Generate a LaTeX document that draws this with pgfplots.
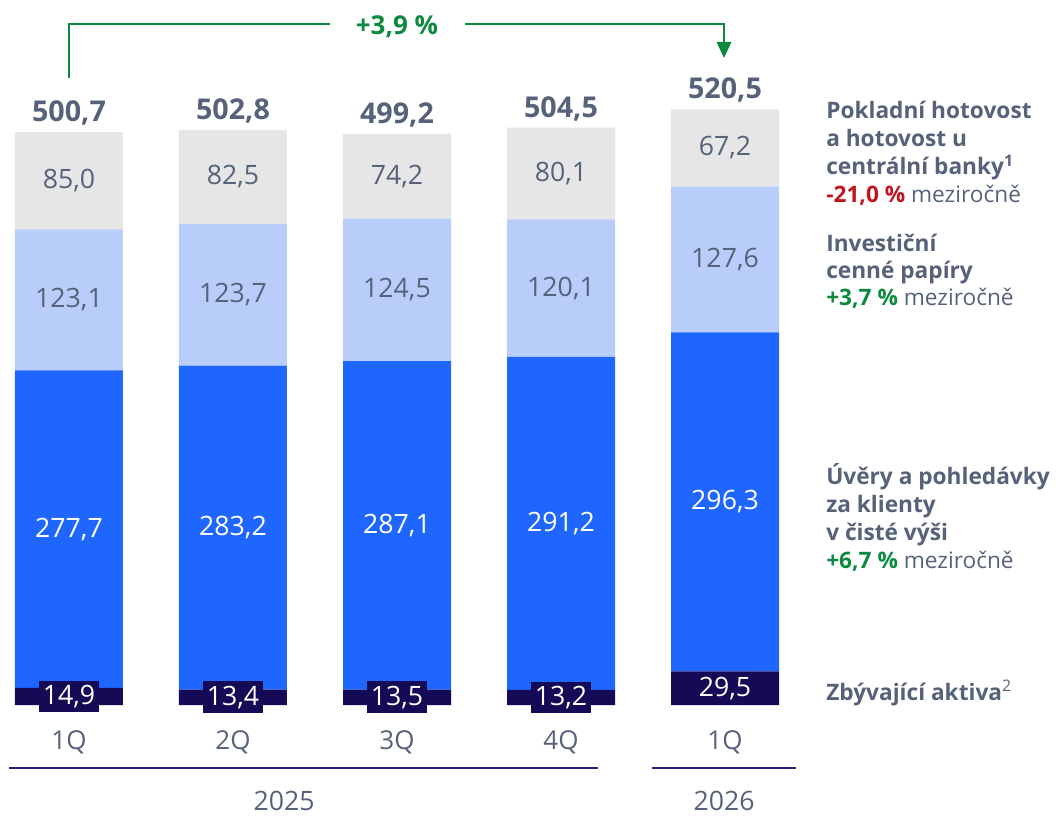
\documentclass[border=0pt]{standalone}
\usepackage{pgfplots}
\pgfplotsset{compat=1.18}
\usepackage{pgfplotstable}
\usepackage{fontspec}
\setmainfont{Open Sans}
\definecolor{cNavy}{HTML}{140A55}
\definecolor{cBlue}{HTML}{1F66FF}
\definecolor{cLight}{HTML}{B9CDFB}
\definecolor{cGray}{HTML}{E6E6E6}
\definecolor{cText}{HTML}{56627A}
\definecolor{cGreen}{HTML}{0B8A3F}
\definecolor{cRed}{HTML}{C0141E}
\definecolor{cLine}{HTML}{2A1F78}

\pgfplotstableread{
x v lab
0 14.9 14,9
1 13.4 13,4
2 13.5 13,5
3 13.2 13,2
4 29.5 29,5
}\dRest
\pgfplotstableread{
x v lab
0 277.7 277,7
1 283.2 283,2
2 287.1 287,1
3 291.2 291,2
4 296.3 296,3
}\dLoans
\pgfplotstableread{
x v lab
0 123.1 123,1
1 123.7 123,7
2 124.5 124,5
3 120.1 120,1
4 127.6 127,6
}\dSec
\pgfplotstableread{
x v lab
0 85.0 85,0
1 82.5 82,5
2 74.2 74,2
3 80.1 80,1
4 67.2 67,2
}\dCash
\pgfplotstableread{
x v lab
0 500.7 500,7
1 502.8 502,8
2 499.2 499,2
3 504.5 504,5
4 520.5 520,5
}\dTotal

\newcommand{\valfont}{\fontsize{20}{24}\selectfont}
\newcommand{\lblfont}{\fontsize{17}{20}\selectfont}
\pgfplotsset{
  seglabel/.style={
    nodes near coords,
    point meta=explicit symbolic,
    every node near coord/.append style={anchor=center, inner sep=0pt, font=\valfont}
  },
  geom/.style={
    at={(0pt,82.5pt)}, anchor=south west,
    scale only axis, width=600pt, height=528.75pt,
    xmin=-0.4207, xmax=4.4573, ymin=0, ymax=616.26,
    enlargelimits=false, clip=false,
    axis line style={draw=none}, tick style={draw=none},
    major tick length=0pt, ytick=\empty,
  }
}

\begin{document}
\begin{tikzpicture}
\useasboundingbox (0,0) rectangle (795.75pt,611.25pt);
\begin{axis}[
  geom,
  ybar stacked, bar width=81pt,
  xtick={0,1,2,3,4},
  xticklabels={1Q,2Q,3Q,4Q,1Q},
  xticklabel style={anchor=base, yshift=-33pt, text=cText, font=\fontsize{19.5}{22}\selectfont},
]
\addplot[fill=cNavy, draw=none, seglabel,
  every node near coord/.append style={fill=cNavy, text=white, minimum width=45pt, minimum height=23.8pt}]
  table[x=x, y=v, meta=lab] {\dRest};
\addplot[fill=cBlue, draw=none, seglabel,
  every node near coord/.append style={text=white}]
  table[x=x, y=v, meta=lab] {\dLoans};
\addplot[fill=cLight, draw=none, seglabel,
  every node near coord/.append style={text=cText}]
  table[x=x, y=v, meta=lab] {\dSec};
\addplot[fill=cGray, draw=none, seglabel,
  every node near coord/.append style={text=cText}]
  table[x=x, y=v, meta=lab] {\dCash};
\end{axis}
\begin{axis}[geom, xtick=\empty]
\addplot[draw=none, mark=none, nodes near coords, point meta=explicit symbolic,
  every node near coord/.append style={anchor=base, inner sep=0pt, yshift=8pt,
    text=cText, font=\fontsize{21.5}{24}\selectfont\bfseries}]
  table[x=x, y=v, meta=lab] {\dTotal};
\end{axis}

\begin{scope}[x=0.75pt, y=-0.75pt, shift={(0pt,611.25pt)}]
  % growth bracket
  \draw[cGreen, line width=1.5pt] (69,78) -- (69,24) -- (330,24);
  \draw[cGreen, line width=1.5pt] (465,24) -- (724,24) -- (724,44);
  \fill[cGreen] (716.5,42) -- (731.5,42) -- (724,58) -- cycle;
  \node[anchor=base, inner sep=0pt, text=cGreen, font=\fontsize{19.5}{22}\selectfont\bfseries] at (397,35) {+3,9 \%};
  % year lines
  \draw[cLine, line width=1.1pt] (9,768) -- (598,768);
  \draw[cLine, line width=1.1pt] (652,768) -- (796,768);
  \node[anchor=base, inner sep=0pt, text=cText, font=\fontsize{20}{24}\selectfont] at (284,810) {2025};
  \node[anchor=base, inner sep=0pt, text=cText, font=\fontsize{20}{24}\selectfont] at (724,810) {2026};
  % right labels
  \begin{scope}[every node/.style={anchor=base west, inner sep=0pt, text=cText, font=\lblfont}]
    \node at (826,119) {\bfseries Pokladní hotovost};
    \node at (826,147) {\bfseries a hotovost u};
    \node at (826,175) {\bfseries centrální banky\textsuperscript{1}};
    \node at (826,203) {{\bfseries\color{cRed}-21,0 \%} meziročně};
    \node at (826,252) {\bfseries Investiční};
    \node at (826,279) {\bfseries cenné papíry};
    \node at (826,306) {{\bfseries\color{cGreen}+3,7 \%} meziročně};
    \node at (826,485) {\bfseries Úvěry a pohledávky};
    \node at (826,513) {\bfseries za klienty};
    \node at (826,541) {\bfseries v čisté výši};
    \node at (826,569) {{\bfseries\color{cGreen}+6,7 \%} meziročně};
    \node at (826,700) {{\bfseries Zbývající aktiva}\textsuperscript{2}};
  \end{scope}
\end{scope}
\end{tikzpicture}
\end{document}
